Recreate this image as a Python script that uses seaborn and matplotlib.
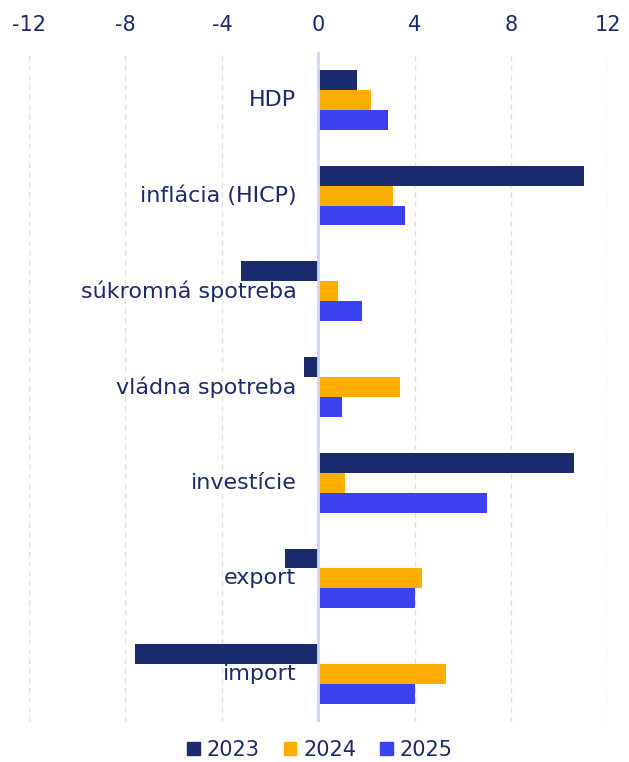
import matplotlib
matplotlib.use("Agg")
import matplotlib.pyplot as plt
import matplotlib.transforms as mtransforms
import seaborn as sns
import pandas as pd

categories = ["HDP", "inflácia (HICP)", "súkromná spotreba", "vládna spotreba",
              "investície", "export", "import"]
years = ["2023", "2024", "2025"]
v2023 = [1.6, 11.0, -3.2, -0.6, 10.6, -1.4, -7.6]
v2024 = [2.2, 3.1, 0.8, 3.4, 1.1, 4.3, 5.3]
v2025 = [2.9, 3.6, 1.8, 1.0, 7.0, 4.0, 4.0]
xticks = [-12, -8, -4, 0, 4, 8, 12]

colors = ["#1a2c6e", "#ffad00", "#3d42f0"]
navy = "#1a2b6d"

rows = []
for y, vals in zip(years, [v2023, v2024, v2025]):
    for c, v in zip(categories, vals):
        rows.append({"cat": c, "year": y, "val": v})
df = pd.DataFrame(rows)

sns.set_theme(style="white")
plt.rcParams["font.family"] = ["DejaVu Sans"]

fig = plt.figure(figsize=(6.29, 7.62), dpi=100)
L, R, T, B = 29, 607.7, 52, 722
ax = fig.add_axes([L / 629, (762 - B) / 762, (R - L) / 629, (B - T) / 762])

sns.barplot(data=df, y="cat", x="val", hue="year", order=categories,
            hue_order=years, palette=colors, orient="h", width=0.625,
            saturation=1, ax=ax, legend=True, linewidth=0)

ax.set_xlim(-12, 12)
ax.set_ylim(len(categories) - 0.5, -0.5)
ax.set_xticks(xticks)
ax.set_xticklabels([str(t) for t in xticks])
ax.xaxis.tick_top()
ax.tick_params(axis="x", length=0, pad=12, labelsize=15, colors=navy)
ax.set_yticks([])
ax.set_xlabel("")
ax.set_ylabel("")
for s in ax.spines.values():
    s.set_visible(False)

for t in xticks:
    if t != 0:
        ax.axvline(t, color="#e0e0e0", lw=1, ls=(0, (4, 3)), zorder=0)
ax.axvline(0, color="#cdd6f2", lw=2, zorder=3)

offset = mtransforms.offset_copy(ax.transData, fig=fig, x=-22, y=0, units="dots")
for i, c in enumerate(categories):
    ax.text(0, i, c, transform=offset, ha="right", va="center",
            fontsize=16, color=navy)

ax.legend_.remove()
handles = [plt.Rectangle((0, 0), 1, 1, color=col) for col in colors]
fig.legend(handles, years, loc="center", bbox_to_anchor=(320 / 629, 1 - 750 / 762),
           ncol=3, frameon=False, fontsize=15, labelcolor=navy,
           handlelength=0.61, handleheight=0.61, handletextpad=0.33,
           columnspacing=1.15, borderpad=0, borderaxespad=0)

fig.savefig("out.png", dpi=100)
